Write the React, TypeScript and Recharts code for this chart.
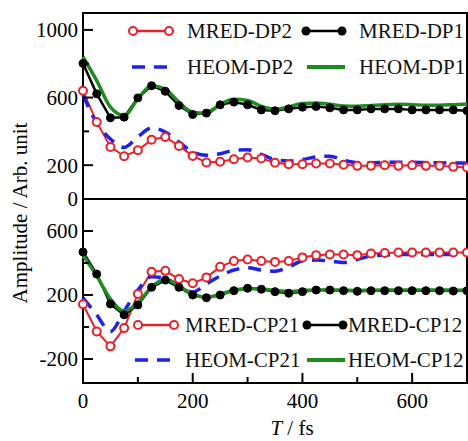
import React from 'react';
import { LineChart, Line, XAxis, YAxis, ReferenceArea, Legend } from 'recharts';

// time axis (fs), one sample every 25 fs
const T = [0, 25, 50, 75, 100, 125, 150, 175, 200, 225, 250, 275, 300, 325, 350, 375, 400, 425, 450, 475, 500, 525, 550, 575, 600, 625, 650, 675, 700];

// upper panel: diagonal peaks
const mredDP2 = [640, 455, 308, 253, 288, 351, 367, 314, 255, 216, 220, 235, 245, 240, 214, 206, 206, 210, 210, 203, 196, 196, 200, 196, 200, 196, 196, 190, 186];
const heomDP2 = [615, 450, 355, 305, 367, 420, 396, 337, 278, 259, 268, 288, 292, 264, 233, 225, 233, 249, 253, 229, 215, 215, 217, 218, 217, 215, 214, 213, 212];
const mredDP1 = [802, 622, 480, 484, 598, 670, 637, 553, 500, 508, 557, 573, 557, 527, 522, 533, 543, 547, 539, 527, 527, 533, 533, 533, 527, 527, 527, 527, 522];
const heomDP1 = [840, 700, 543, 494, 592, 670, 650, 572, 512, 508, 560, 590, 583, 548, 530, 545, 565, 568, 560, 550, 548, 553, 558, 560, 558, 555, 555, 558, 562];

// lower panel: cross peaks
const mredCP21 = [142, -28, -121, -7, 206, 345, 351, 300, 273, 310, 376, 413, 422, 413, 407, 413, 435, 449, 453, 453, 449, 459, 463, 466, 466, 466, 466, 466, 466];
const heomCP21 = [183, 76, -28, 99, 231, 314, 305, 255, 218, 270, 318, 356, 370, 356, 349, 376, 412, 418, 412, 403, 422, 443, 449, 453, 453, 453, 453, 453, 453];
const mredCP12 = [469, 331, 144, 76, 138, 248, 293, 248, 200, 183, 200, 227, 242, 236, 221, 211, 221, 231, 231, 227, 223, 227, 227, 227, 227, 227, 227, 225, 227];
const heomCP12 = [449, 320, 175, 100, 150, 250, 298, 255, 205, 185, 205, 230, 240, 237, 228, 222, 228, 232, 232, 230, 228, 230, 231, 231, 231, 231, 231, 230, 231];

const xTicks = [0, 100, 200, 300, 400, 500, 600];
const xLabels = [0, 200, 400, 600];
const topYTicks = [0, 200, 400, 600, 800, 1000];
const topYLabels = [0, 200, 600, 1000];
const botYTicks = [-200, 0, 200, 400, 600];
const botYLabels = [-200, 200, 600];

const RED = '#e8202a';
const BLUE = '#1c22e6';
const GREEN = '#1f8a1f';
const FONT = "'Liberation Serif', 'Times New Roman', serif";

const topData = T.map((t, i) => ({ t, mredDP2: mredDP2[i], heomDP2: heomDP2[i], mredDP1: mredDP1[i], heomDP1: heomDP1[i] }));
const botData = T.map((t, i) => ({ t, mredCP21: mredCP21[i], heomCP21: heomCP21[i], mredCP12: mredCP12[i], heomCP12: heomCP12[i] }));

function YTick(props: any) {
  const { x, y, payload, labels } = props;
  const major = labels.includes(payload.value);
  return (
    <g>
      <line x1={x} y1={y} x2={x + (major ? 10 : 6)} y2={y} stroke="#000" strokeWidth={2} />
      {major && (
        <text x={x - 5} y={y} dy="0.35em" textAnchor="end" fontFamily={FONT} fontSize={21} fill="#000">
          {payload.value}
        </text>
      )}
    </g>
  );
}

function XTick(props: any) {
  const { x, y, payload, showLabel } = props;
  const major = xLabels.includes(payload.value);
  return (
    <g>
      <line x1={x} y1={y} x2={x} y2={y - (major ? 10 : 6)} stroke="#000" strokeWidth={2} />
      {showLabel && major && (
        <text x={x} y={y + 25} textAnchor="middle" fontFamily={FONT} fontSize={21} fill="#000">
          {payload.value}
        </text>
      )}
    </g>
  );
}

type Kind = 'open' | 'dot' | 'dash' | 'solid';

function LegendIcon({ kind, color }: { kind: Kind; color: string }) {
  return (
    <svg width={46} height={14} style={{ display: 'block' }}>
      {kind === 'dash' ? (
        <line x1={2} y1={7} x2={44} y2={7} stroke={color} strokeWidth={3.5} strokeDasharray="13 9" />
      ) : (
        <line x1={4} y1={7} x2={42} y2={7} stroke={color} strokeWidth={kind === 'solid' ? 4 : 2.5} />
      )}
      {kind === 'open' && (
        <>
          <circle cx={5} cy={7} r={4} fill="#fff" stroke={color} strokeWidth={2} />
          <circle cx={41} cy={7} r={4} fill="#fff" stroke={color} strokeWidth={2} />
        </>
      )}
      {kind === 'dot' && (
        <>
          <circle cx={5} cy={7} r={4.5} fill={color} />
          <circle cx={41} cy={7} r={4.5} fill={color} />
        </>
      )}
    </svg>
  );
}

type Entry = { name: string; color: string; kind: Kind; iconX: number; textX: number; rowY: number };

function PanelLegend({ entries }: { entries: Entry[] }) {
  return (
    <div style={{ position: 'relative', width: 468, height: 10 }}>
      {entries.map((e) => (
        <React.Fragment key={e.name}>
          <div style={{ position: 'absolute', left: e.iconX, top: e.rowY - 7 }}>
            <LegendIcon kind={e.kind} color={e.color} />
          </div>
          <div
            style={{
              position: 'absolute',
              left: e.textX,
              top: e.rowY - 13,
              height: 26,
              lineHeight: '26px',
              fontFamily: FONT,
              fontSize: 21,
              color: '#111',
              whiteSpace: 'nowrap',
            }}
          >
            {e.name}
          </div>
        </React.Fragment>
      ))}
    </div>
  );
}

const topLegend: Entry[] = [
  { name: 'MRED-DP2', color: RED, kind: 'open', iconX: 128, textX: 187, rowY: 31 },
  { name: 'MRED-DP1', color: '#000', kind: 'dot', iconX: 301, textX: 359, rowY: 31 },
  { name: 'HEOM-DP2', color: BLUE, kind: 'dash', iconX: 130, textX: 187, rowY: 67 },
  { name: 'HEOM-DP1', color: GREEN, kind: 'solid', iconX: 303, textX: 359, rowY: 67 },
];

const botLegend: Entry[] = [
  { name: 'MRED-CP21', color: RED, kind: 'open', iconX: 133, textX: 185, rowY: 126 },
  { name: 'MRED-CP12', color: '#000', kind: 'dot', iconX: 302, textX: 348, rowY: 126 },
  { name: 'HEOM-CP21', color: BLUE, kind: 'dash', iconX: 133, textX: 185, rowY: 161 },
  { name: 'HEOM-CP12', color: GREEN, kind: 'solid', iconX: 303, textX: 348, rowY: 161 },
];

const openDot = { r: 4, fill: '#fff', stroke: RED, strokeWidth: 2 };
const fullDot = { r: 4, fill: '#000', stroke: '#000', strokeWidth: 1 };

function TimeTitle(props: any) {
  const { viewBox } = props;
  const cx = viewBox.x + viewBox.width / 2 + 17;
  return (
    <text x={cx} y={viewBox.y + 52} textAnchor="middle" fontFamily={FONT} fontSize={21} fill="#000">
      <tspan fontStyle="italic">T</tspan> / fs
    </text>
  );
}

export default function App() {
  return (
    <div style={{ position: 'absolute', left: 0, top: 0, width: 468, height: 441, background: '#fff', overflow: 'hidden' }}>
      <svg width={40} height={441} style={{ position: 'absolute', left: 0, top: 0 }}>
        <text
          x={20}
          y={213}
          transform="rotate(-90 20 213)"
          textAnchor="middle"
          dominantBaseline="central"
          fontFamily={FONT}
          fontSize={21}
          fill="#000"
        >
          Amplitude / Arb. unit
        </text>
      </svg>

      {/* lower panel */}
      <div style={{ position: 'absolute', left: 0, top: 199 }}>
        <LineChart width={468} height={242} data={botData} margin={{ top: 0, right: 1, bottom: 0, left: 0 }}>
          <XAxis
            dataKey="t"
            type="number"
            domain={[0, 700]}
            ticks={xTicks}
            interval={0}
            height={58}
            axisLine={false}
            tickLine={false}
            tickSize={0}
            tickMargin={0}
            tick={(p: any) => <XTick {...p} showLabel={true} />}
            label={<TimeTitle />}
          />
          <YAxis
            type="number"
            domain={[-350, 800]}
            ticks={botYTicks}
            interval={0}
            width={83}
            axisLine={false}
            tickLine={false}
            tickSize={0}
            tickMargin={0}
            tick={(p: any) => <YTick {...p} labels={botYLabels} />}
          />
          <ReferenceArea x1={0} x2={700} y1={-350} y2={800} fill="none" stroke="#000" strokeWidth={2} />
          <Line type="linear" dataKey="mredCP21" stroke={RED} strokeWidth={2} dot={openDot} isAnimationActive={false} />
          <Line type="monotone" dataKey="heomCP21" stroke={BLUE} strokeWidth={3.5} strokeDasharray="13 9" dot={false} isAnimationActive={false} />
          <Line type="linear" dataKey="mredCP12" stroke="#000" strokeWidth={2.5} dot={fullDot} isAnimationActive={false} />
          <Line type="monotone" dataKey="heomCP12" stroke={GREEN} strokeWidth={3.5} dot={false} isAnimationActive={false} />
          <Legend
            layout="vertical"
            align="center"
            verticalAlign="middle"
            wrapperStyle={{ left: 0, top: 0, width: 468, pointerEvents: 'none' }}
            content={() => <PanelLegend entries={botLegend} />}
          />
        </LineChart>
      </div>

      {/* upper panel, drawn last so the 0 label at the shared edge stays whole */}
      <div style={{ position: 'absolute', left: 0, top: 0 }}>
        <LineChart width={468} height={216} data={topData} margin={{ top: 13, right: 1, bottom: 17, left: 0 }}>
          <XAxis
            dataKey="t"
            type="number"
            domain={[0, 700]}
            ticks={[100, 200, 300, 400, 500, 600]}
            interval={0}
            height={0}
            axisLine={false}
            tickLine={false}
            tickSize={0}
            tickMargin={0}
            tick={(p: any) => <XTick {...p} showLabel={false} />}
          />
          <YAxis
            type="number"
            domain={[0, 1100]}
            ticks={topYTicks}
            interval={0}
            width={83}
            axisLine={false}
            tickLine={false}
            tickSize={0}
            tickMargin={0}
            tick={(p: any) => <YTick {...p} labels={topYLabels} />}
          />
          <ReferenceArea x1={0} x2={700} y1={0} y2={1100} fill="none" stroke="#000" strokeWidth={2} />
          <Line type="linear" dataKey="mredDP2" stroke={RED} strokeWidth={2} dot={openDot} isAnimationActive={false} />
          <Line type="monotone" dataKey="heomDP2" stroke={BLUE} strokeWidth={3.5} strokeDasharray="13 9" dot={false} isAnimationActive={false} />
          <Line type="linear" dataKey="mredDP1" stroke="#000" strokeWidth={2.5} dot={fullDot} isAnimationActive={false} />
          <Line type="monotone" dataKey="heomDP1" stroke={GREEN} strokeWidth={3.5} dot={false} isAnimationActive={false} />
          <Legend
            layout="vertical"
            align="center"
            verticalAlign="middle"
            wrapperStyle={{ left: 0, top: 0, width: 468, pointerEvents: 'none' }}
            content={() => <PanelLegend entries={topLegend} />}
          />
        </LineChart>
      </div>
    </div>
  );
}
